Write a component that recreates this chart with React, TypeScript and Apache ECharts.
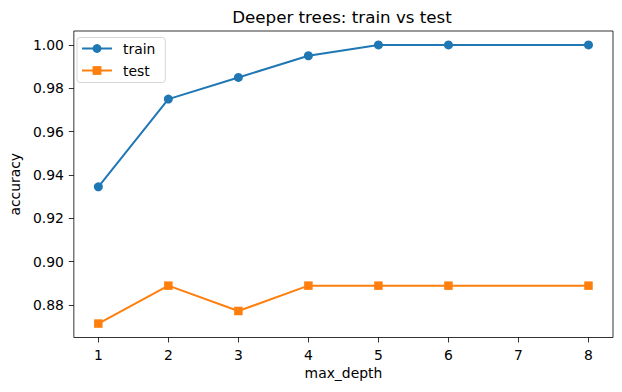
import React, { useEffect, useRef } from "react";
import * as echarts from "echarts";

const maxDepth = [1, 2, 3, 4, 5, 6, 8];
const trainAcc = [0.9345, 0.975, 0.985, 0.995, 1.0, 1.0, 1.0];
const testAcc = [0.8714, 0.8889, 0.8772, 0.8889, 0.8889, 0.8889, 0.8889];
const xTicks = [1, 2, 3, 4, 5, 6, 7, 8];
const yTicks = [0.88, 0.9, 0.92, 0.94, 0.96, 0.98, 1.0];

const FONT = "DejaVu Sans";

export default function App() {
  const ref = useRef<HTMLDivElement>(null);
  useEffect(() => {
    if (!ref.current) return;
    const chart = echarts.init(ref.current, undefined, { renderer: "svg" });
    const all = [...trainAcc, ...testAcc];
    const yMinD = Math.min(...all);
    const yMaxD = Math.max(...all);
    const yPad = (yMaxD - yMinD) * 0.05;
    const xMinD = Math.min(...maxDepth);
    const xMaxD = Math.max(...maxDepth);
    const xPad = (xMaxD - xMinD) * 0.05;
    chart.setOption({
      animation: false,
      backgroundColor: "#fff",
      textStyle: { fontFamily: FONT },
      grid: {
        left: 70.5,
        right: 9,
        top: 31,
        bottom: 54.5,
        show: true,
        borderColor: "#000",
        borderWidth: 0.8,
        backgroundColor: "transparent",
      },
      graphic: [
        {
          type: "text",
          x: 342,
          y: 17,
          style: {
            text: "Deeper trees: train vs test",
            fontFamily: FONT,
            fontSize: 16.7,
            fill: "#000",
            align: "center",
            verticalAlign: "middle",
          },
        },
      ],
      legend: {
        left: 77,
        top: 37.5,
        orient: "vertical",
        itemWidth: 30,
        itemHeight: 11,
        itemGap: 8,
        padding: [4, 10, 5, 4],
        backgroundColor: "#fff",
        borderColor: "#d6d6d6",
        borderWidth: 1,
        borderRadius: 3,
        textStyle: {
          fontFamily: FONT,
          fontSize: 13.9,
          color: "#000",
          padding: [0, 0, 0, 6],
        },
        data: ["train", "test"],
      },
      xAxis: {
        type: "value",
        min: xMinD - xPad,
        max: xMaxD + xPad,
        name: "max_depth",
        nameLocation: "middle",
        nameGap: 28,
        nameTextStyle: { fontFamily: FONT, fontSize: 13.9, color: "#000" },
        splitLine: { show: false },
        axisLine: { show: false },
        axisTick: {
          show: true,
          length: 5,
          lineStyle: { color: "#000", width: 0.8 },
          customValues: xTicks,
        },
        axisLabel: {
          fontFamily: FONT,
          fontSize: 13.9,
          color: "#000",
          margin: 10,
          customValues: xTicks,
          formatter: (v: number) => String(v),
        },
      },
      yAxis: {
        type: "value",
        min: yMinD - yPad,
        max: yMaxD + yPad,
        name: "accuracy",
        nameLocation: "middle",
        nameGap: 48,
        nameTextStyle: { fontFamily: FONT, fontSize: 13.9, color: "#000" },
        splitLine: { show: false },
        axisLine: { show: false },
        axisTick: {
          show: true,
          length: 5,
          lineStyle: { color: "#000", width: 0.8 },
          customValues: yTicks,
        },
        axisLabel: {
          fontFamily: FONT,
          fontSize: 13.9,
          color: "#000",
          margin: 10,
          customValues: yTicks,
          formatter: (v: number) => v.toFixed(2),
        },
      },
      series: [
        {
          name: "train",
          type: "line",
          data: maxDepth.map((d, i) => [d, trainAcc[i]]),
          symbol: "circle",
          symbolSize: 9,
          itemStyle: { color: "#1f77b4" },
          lineStyle: { color: "#1f77b4", width: 2 },
        },
        {
          name: "test",
          type: "line",
          data: maxDepth.map((d, i) => [d, testAcc[i]]),
          symbol: "rect",
          symbolSize: 8.5,
          itemStyle: { color: "#ff7f0e" },
          lineStyle: { color: "#ff7f0e", width: 2 },
        },
      ],
    });
    return () => chart.dispose();
  }, []);
  return (
    <div
      ref={ref}
      style={{ position: "fixed", left: 0, top: 0, width: 622, height: 392 }}
    />
  );
}
